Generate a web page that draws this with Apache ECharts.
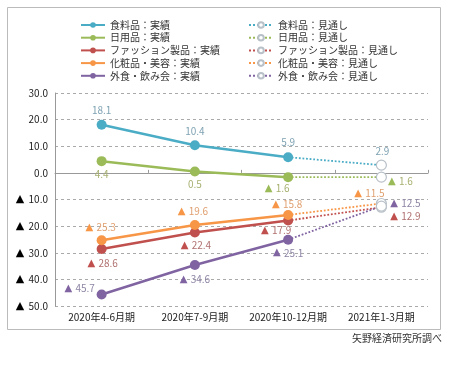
<!DOCTYPE html>
<html><head><meta charset="utf-8">
<script src="https://cdn.jsdelivr.net/npm/echarts@6/dist/echarts.min.js"></script>
<style>html,body{margin:0;padding:0;background:#fff}#c{width:450px;height:372px}</style>
</head><body><div id="c"></div>
<script>
const categories = ['2020年4-6月期', '2020年7-9月期', '2020年10-12月期', '2021年1-3月期'];
const names = ['食料品', '日用品', 'ファッション製品', '化粧品・美容', '外食・飲み会'];
const food     = [18.1, 10.4, 5.9, 2.9];
const daily    = [4.4, 0.5, -1.6, -1.6];
const fashion  = [-28.6, -22.4, -17.9, -12.9];
const cosme    = [-25.3, -19.6, -15.8, -11.5];
const dining   = [-45.7, -34.6, -25.1, -12.5];
const yTicks = [-50, -40, -30, -20, -10, 0, 10, 20, 30];

const values = [food, daily, fashion, cosme, dining];
const colors = ['#4BACC6', '#9BBB59', '#C0504D', '#F79646', '#8064A2'];
const labelColors = ['#7FA3B3', '#A8B070', '#B07070', '#E0A070', '#8F85A5'];
// label offsets [dx, dy] relative to each point
const offsets = [
  [[0,-14],[0,-14],[0,-15],[1,-14]],
  [[0,13],[0,13],[-11,11],[19,4]],
  [[1,14],[1,13],[-12,10],[24,9]],
  [[-1,-13],[-2,-14],[-1,-11],[-12,-10]],
  [[-22,-6],[0,14],[0,13],[24,-3]]
];

function fmt(v) {
  return v < 0 ? '{t|▲} {n|' + Math.abs(v).toFixed(1) + '}' : '{n|' + v.toFixed(1) + '}';
}
function mkLabel(i, j) {
  return {
    show: true, position: 'inside', offset: offsets[i][j],
    formatter: function (p) { return fmt(p.value); },
    rich: {
      t: { color: colors[i], fontSize: 10, fontFamily: 'DejaVu Sans' },
      n: { color: labelColors[i], fontSize: 10, fontFamily: 'Noto Sans CJK JP' }
    }
  };
}

const series = [];
values.forEach((arr, i) => {
  series.push({
    name: names[i] + '：見通し', type: 'line', z: 2,
    data: arr.map((v, j) => {
      if (j < 2) return null;
      if (j === 3) return { value: v, label: mkLabel(i, j) };
      return { value: v, symbolSize: 0 };
    }),
    symbol: 'circle', symbolSize: 10, showAllSymbol: true,
    lineStyle: { color: colors[i], width: 1.8, type: 'dotted' },
    itemStyle: { color: '#ffffff', borderColor: '#B8C0C8', borderWidth: 1.2 },
    animation: false
  });
});
values.forEach((arr, i) => {
  series.push({
    name: names[i] + '：実績', type: 'line', z: 3,
    data: arr.map((v, j) => j < 3 ? { value: v, label: mkLabel(i, j) } : null),
    symbol: 'circle', symbolSize: 10,
    lineStyle: { color: colors[i], width: 2.5 },
    itemStyle: { color: colors[i] },
    animation: false
  });
});

const chart = echarts.init(document.getElementById('c'), null, { renderer: 'canvas' });
const legendText = { fontSize: 10, lineHeight: 10, color: '#333', fontFamily: 'Noto Sans CJK JP' };
chart.setOption({
  animation: false,
  graphic: [
    { type: 'rect', shape: { x: 7.5, y: 7.5, width: 433, height: 322 }, style: { fill: 'none', stroke: '#BBBBBB', lineWidth: 1 }, z: -1 },
    { type: 'text', right: 8, top: 333, style: { text: '矢野経済研究所調べ', font: '10px "Noto Sans CJK JP"', fill: '#333' } }
  ],
  legend: [
    { data: names.map(n => n + '：実績'), orient: 'vertical', left: 80, top: 20, padding: 0, itemGap: 2.7, itemWidth: 24, itemHeight: 7, textStyle: legendText, selectedMode: false },
    { data: names.map(n => n + '：見通し'), orient: 'vertical', left: 248, top: 20, padding: 0, itemGap: 2.7, itemWidth: 24, itemHeight: 7, textStyle: legendText, selectedMode: false }
  ],
  grid: { left: 55, right: 22, top: 93, bottom: 66, containLabel: false },
  xAxis: [
    { type: 'category', data: categories, position: 'bottom', axisLine: { show: false, onZero: false }, axisTick: { show: false },
      axisLabel: { interval: 0, fontSize: 10, color: '#222', fontFamily: 'Noto Sans CJK JP', margin: 6 } },
    { type: 'category', data: categories, axisLine: { show: true, onZero: true, lineStyle: { color: '#999', width: 1 } },
      axisTick: { show: true, length: 3, interval: 0, lineStyle: { color: '#999' } }, axisLabel: { show: false } }
  ],
  yAxis: {
    type: 'value', min: -50, max: 30, interval: 10,
    axisLine: { show: true, lineStyle: { color: '#999' } },
    axisTick: { show: false },
    splitLine: { show: true, lineStyle: { color: '#AAAAAA', type: [3, 3], width: 1 } },
    axisLabel: {
      margin: 7, fontSize: 10, color: '#222', fontFamily: 'Noto Sans CJK JP',
      formatter: function (v) { return v < 0 ? '{t|▲}  ' + Math.abs(v).toFixed(1) : v.toFixed(1); },
      rich: { t: { color: '#000', fontSize: 11, fontFamily: 'DejaVu Sans' } }
    }
  },
  series: series
});
</script></body></html>
